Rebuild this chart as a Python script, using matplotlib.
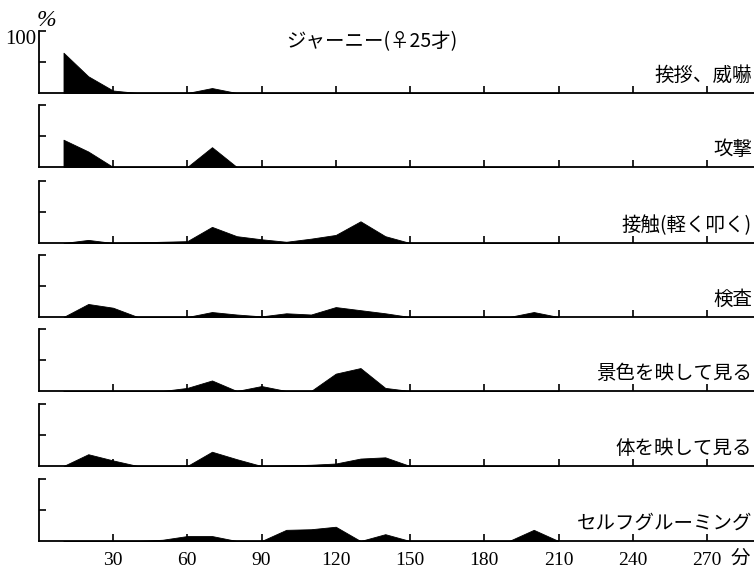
import matplotlib
matplotlib.use("Agg")
import matplotlib.pyplot as plt

# ---- data (percent of observation time, sampled every 10 minutes) ----
minutes = [10, 20, 30, 40, 50, 60, 70, 80, 90, 100, 110,
           120, 130, 140, 150, 160, 170, 180, 190, 200, 210]

behaviours = ["挨拶、威嚇", "攻撃", "接触(軽く叩く)", "検査",
              "景色を映して見る", "体を映して見る", "セルフグルーミング"]

greeting_threat = [65, 27, 4, 0, 0, 0, 8, 0, 0, 0, 0, 0, 0, 0, 0, 0, 0, 0, 0, 0, 0]
attack          = [44, 25, 0, 0, 0, 0, 32, 0, 0, 0, 0, 0, 0, 0, 0, 0, 0, 0, 0, 0, 0]
touch           = [0, 5, 0, 1, 2, 3, 26, 11, 6, 2, 7, 13, 35, 11, 0, 0, 0, 0, 0, 0, 0]
inspect         = [0, 21, 15, 0, 0, 0, 8, 4, 1, 6, 4, 16, 11, 6, 0, 0, 0, 0, 0, 8, 0]
view_scenery    = [0, 0, 0, 0, 0, 5, 17, 0, 8, 0, 0, 28, 37, 5, 0, 0, 0, 0, 0, 0, 0]
view_body       = [0, 19, 9, 0, 0, 0, 23, 11, 0, 1, 2, 4, 12, 14, 0, 0, 0, 0, 0, 0, 0]
self_grooming   = [0, 0, 0, 0, 2, 8, 8, 0, 0, 18, 19, 23, 0, 11, 0, 0, 0, 0, 0, 18, 0]

series = [greeting_threat, attack, touch, inspect, view_scenery, view_body, self_grooming]

x_ticks = [30, 60, 90, 120, 150, 180, 210, 240, 270]
title = "ジャーニー(♀25才)"

# ---- layout ----
W, H = 754, 568
fig = plt.figure(figsize=(W / 100, H / 100), dpi=100)
cjk = ["Noto Sans CJK JP", "DejaVu Sans"]
serif = ["Liberation Serif", "DejaVu Serif"]

baselines = [93, 167, 243, 317, 391, 466, 541]   # pixel rows of each panel's baseline
panel_h = 62
left_px = 38.75
px_per_min = 2.475
xmax = (W - left_px) / px_per_min

for i, (name, vals, b) in enumerate(zip(behaviours, series, baselines)):
    ax = fig.add_axes([left_px / W, (H - b) / H, 1 - left_px / W, panel_h / H])
    ax.fill_between(minutes, vals, 0, color="black", lw=0.6, edgecolor="black")
    ax.set_xlim(0, xmax)
    ax.set_ylim(0, 100)
    for s in ("top", "right"):
        ax.spines[s].set_visible(False)
    ax.spines["left"].set_linewidth(1.3)
    ax.spines["bottom"].set_linewidth(1.3)
    ax.set_yticks([50, 100])
    ax.set_yticklabels([])
    ax.set_xticks(x_ticks)
    ax.tick_params(axis="y", direction="in", length=5, width=1.2)
    ax.tick_params(axis="x", direction="in", length=5, width=1.2, pad=8)
    if i == len(series) - 1:
        ax.set_xticklabels([str(t) for t in x_ticks], family=serif, fontsize=14)
    else:
        ax.set_xticklabels([])
    ax.patch.set_alpha(0)
    fig.text(752 / W, (H - b + 7) / H, name, ha="right", va="bottom",
             family=cjk, fontsize=14)

fig.text(372 / W, 1 - 42 / H, title, ha="center", va="center", family=cjk, fontsize=14)
fig.text(36 / W, 1 - 40 / H, "100", ha="right", va="center", family=serif, fontsize=15)
fig.text(46 / W, 1 - 20 / H, "%", ha="center", va="center", family=serif,
         fontsize=17, style="italic")
fig.text(740 / W, 1 - 558 / H, "分", ha="center", va="center", family=cjk, fontsize=14)

fig.savefig("out.png", dpi=100, facecolor="white")
